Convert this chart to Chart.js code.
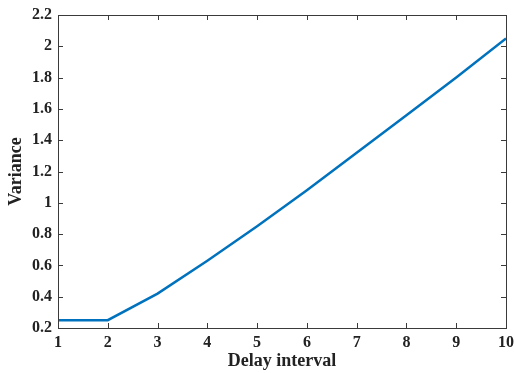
<!DOCTYPE html>
<html>
<head>
<meta charset="utf-8">
<script src="https://cdn.jsdelivr.net/npm/chart.js@4/dist/chart.umd.min.js"></script>
<style>
html,body{margin:0;padding:0;background:#fff;}
#wrap{width:514px;height:373px;}
</style>
</head>
<body>
<div id="wrap"><canvas id="c" width="514" height="373"></canvas></div>
<script>
const delayInterval = [1, 2, 3, 4, 5, 6, 7, 8, 9, 10];
const variance = [0.25, 0.25, 0.42, 0.63, 0.85, 1.08, 1.32, 1.56, 1.80, 2.05];
const xTicks = [1, 2, 3, 4, 5, 6, 7, 8, 9, 10];
const yTicks = [0.2, 0.4, 0.6, 0.8, 1, 1.2, 1.4, 1.6, 1.8, 2, 2.2];

const FONT = "'Liberation Serif', 'Times New Roman', serif";

const boxPlugin = {
  id: 'box',
  afterDraw(chart) {
    const {ctx, chartArea: a, scales} = chart;
    ctx.save();
    ctx.strokeStyle = '#3a3a3a';
    ctx.lineWidth = 1;
    ctx.strokeRect(Math.round(a.left) + 0.5, Math.round(a.top) + 0.5,
                   Math.round(a.right - a.left), Math.round(a.bottom - a.top));
    ctx.beginPath();
    const tl = 5;
    xTicks.forEach(v => {
      const px = Math.round(scales.x.getPixelForValue(v)) + 0.5;
      ctx.moveTo(px, a.bottom); ctx.lineTo(px, a.bottom - tl);
      ctx.moveTo(px, a.top); ctx.lineTo(px, a.top + tl);
    });
    yTicks.forEach(v => {
      const py = Math.round(scales.y.getPixelForValue(v)) + 0.5;
      ctx.moveTo(a.left, py); ctx.lineTo(a.left + tl, py);
      ctx.moveTo(a.right, py); ctx.lineTo(a.right - tl, py);
    });
    ctx.stroke();
    ctx.restore();
  }
};

new Chart(document.getElementById('c'), {
  type: 'line',
  data: {
    datasets: [{
      data: delayInterval.map((x, i) => ({x: x, y: variance[i]})),
      borderColor: 'rgb(0,114,189)',
      borderWidth: 2.5,
      pointRadius: 0,
      tension: 0,
      fill: false
    }]
  },
  options: {
    responsive: false,
    animation: false,
    devicePixelRatio: 1,
    layout: {padding: {top: 15, right: 8, left: 0, bottom: 0}},
    plugins: {legend: {display: false}, tooltip: {enabled: false}},
    scales: {
      x: {
        type: 'linear',
        min: 1, max: 10,
        afterBuildTicks: s => { s.ticks = xTicks.map(v => ({value: v})); },
        afterFit: s => { s.height = 45; s.paddingRight = 0; s.paddingLeft = 0; },
        grid: {display: false, drawTicks: false},
        border: {display: false},
        ticks: {
          color: '#222',
          padding: 5,
          maxRotation: 0,
          autoSkip: false,
          font: {family: FONT, size: 16, weight: 'bold'}
        },
        title: {
          display: true,
          text: 'Delay interval',
          color: '#222',
          padding: {top: 0, bottom: 1},
          font: {family: FONT, size: 18, weight: 'bold'}
        }
      },
      y: {
        min: 0.2, max: 2.2,
        afterBuildTicks: s => { s.ticks = yTicks.map(v => ({value: v})); },
        afterFit: s => { s.width = 58; s.paddingTop = 0; s.paddingBottom = 0; },
        grid: {display: false, drawTicks: false},
        border: {display: false},
        ticks: {
          color: '#222',
          padding: 6,
          autoSkip: false,
          font: {family: FONT, size: 16, weight: 'bold'},
          callback: v => String(Math.round(v * 10) / 10)
        },
        title: {
          display: true,
          text: 'Variance',
          color: '#222',
          padding: {top: 6, bottom: 0},
          font: {family: FONT, size: 18, weight: 'bold'}
        }
      }
    }
  },
  plugins: [boxPlugin]
});
</script>
</body>
</html>
